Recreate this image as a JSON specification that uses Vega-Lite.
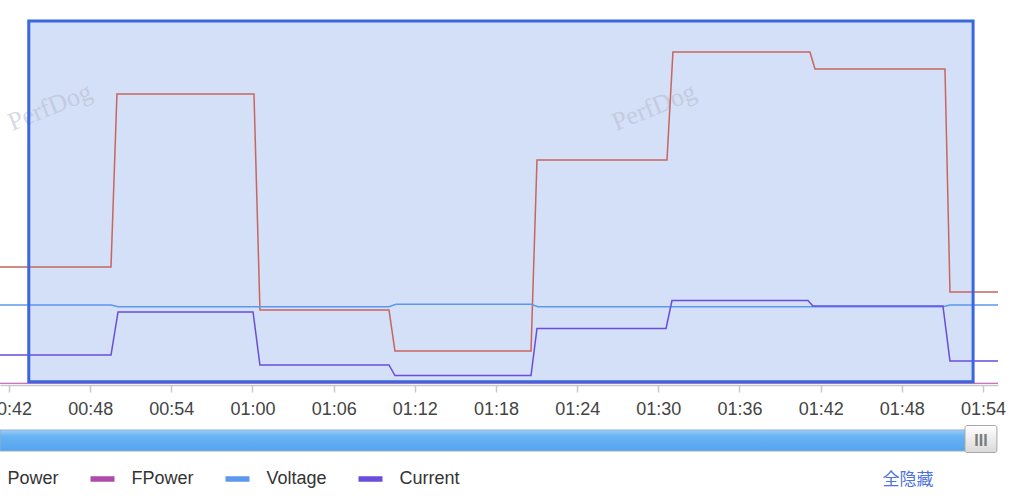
{
  "$schema": "https://vega.github.io/schema/vega-lite/v6.json",
  "width": 998,
  "height": 433,
  "autosize": {"type": "none"},
  "padding": {"left": 0, "top": 20, "right": 26, "bottom": 50},
  "background": "white",
  "config": {"view": {"stroke": null}},
  "title": {"text": "全隐藏", "orient": "bottom", "anchor": "end", "dx": -72, "offset": -18, "font": "Noto Sans CJK SC", "fontSize": 17, "fontWeight": "normal", "color": "#5072e0"},
  "datasets": {
    "series": [
      {"series": "FPower", "t": 41.0, "v": 0},
      {"series": "FPower", "t": 115.3, "v": 0},
      {"series": "Power", "t": 41.0, "v": 7456},
      {"series": "Power", "t": 49.54, "v": 7456},
      {"series": "Power", "t": 49.98, "v": 14556},
      {"series": "Power", "t": 60.11, "v": 14556},
      {"series": "Power", "t": 60.55, "v": 5692},
      {"series": "Power", "t": 70.09, "v": 5692},
      {"series": "Power", "t": 70.53, "v": 4010},
      {"series": "Power", "t": 80.59, "v": 4010},
      {"series": "Power", "t": 81.03, "v": 11848},
      {"series": "Power", "t": 90.64, "v": 11848},
      {"series": "Power", "t": 91.08, "v": 16280},
      {"series": "Power", "t": 101.21, "v": 16280},
      {"series": "Power", "t": 101.58, "v": 15582},
      {"series": "Power", "t": 111.19, "v": 15582},
      {"series": "Power", "t": 111.56, "v": 6430},
      {"series": "Power", "t": 115.3, "v": 6430},
      {"series": "Voltage", "t": 41.0, "v": 4100},
      {"series": "Voltage", "t": 49.54, "v": 4100},
      {"series": "Voltage", "t": 50.06, "v": 4077},
      {"series": "Voltage", "t": 70.09, "v": 4077},
      {"series": "Voltage", "t": 70.61, "v": 4109},
      {"series": "Voltage", "t": 80.59, "v": 4109},
      {"series": "Voltage", "t": 81.1, "v": 4077},
      {"series": "Voltage", "t": 111.04, "v": 4077},
      {"series": "Voltage", "t": 111.56, "v": 4100},
      {"series": "Voltage", "t": 115.3, "v": 4100},
      {"series": "Current", "t": 41.0, "v": 1800},
      {"series": "Current", "t": 49.54, "v": 1800},
      {"series": "Current", "t": 50.06, "v": 3520},
      {"series": "Current", "t": 60.04, "v": 3520},
      {"series": "Current", "t": 60.55, "v": 1400},
      {"series": "Current", "t": 70.09, "v": 1400},
      {"series": "Current", "t": 70.53, "v": 980},
      {"series": "Current", "t": 80.59, "v": 980},
      {"series": "Current", "t": 81.03, "v": 2860},
      {"series": "Current", "t": 90.57, "v": 2860},
      {"series": "Current", "t": 91.01, "v": 3980},
      {"series": "Current", "t": 101.06, "v": 3980},
      {"series": "Current", "t": 101.43, "v": 3760},
      {"series": "Current", "t": 111.04, "v": 3760},
      {"series": "Current", "t": 111.56, "v": 1560},
      {"series": "Current", "t": 115.3, "v": 1560}
    ],
    "selection": [{"start": 43.462, "end": 113.269}],
    "scroll": [{"start": 41.335, "end": 114.5, "handleStart": 112.67, "handleEnd": 115.03}]
  },
  "layer": [
    {
      "data": {"name": "series"},
      "transform": [{"filter": "datum.series === 'FPower'"}],
      "mark": {"type": "line", "strokeWidth": 1.2, "clip": true},
      "encoding": {
        "x": {"field": "t", "type": "quantitative",
          "scale": {"domain": [41.335, 115.11], "nice": false, "zero": false},
          "axis": {"title": null, "values": [42, 48, 54, 60, 66, 72, 78, 84, 90, 96, 102, 108, 114],
            "labelExpr": "(floor(datum.value/60) < 10 ? '0' : '') + floor(datum.value/60) + ':' + (datum.value % 60 < 10 ? '0' : '') + (datum.value % 60)",
            "offset": -68, "grid": false, "domainColor": "#c8c8c8", "domainWidth": 1.5,
            "tickColor": "#c8c8c8", "tickWidth": 1.5, "tickSize": 7,
            "labelFont": "Liberation Sans", "labelFontSize": 18, "labelColor": "#444444",
            "labelPadding": 8, "labelFlush": false, "labelOverlap": false, "labelBound": false}},
        "y": {"field": "v", "type": "quantitative", "scale": {"domain": [-19.2, 100], "nice": false, "zero": false}, "axis": null},
        "color": {"field": "series", "type": "nominal",
          "scale": {"domain": ["Power", "FPower", "Voltage", "Current"], "range": ["#c8655d", "#b04aa8", "#5b98ee", "#6a4ddc"]},
          "legend": {"orient": "none", "legendX": -36.5, "legendY": 444, "direction": "horizontal", "title": null,
            "symbolType": "stroke", "symbolSize": 576, "symbolStrokeWidth": 5.5, "symbolOpacity": 1,
            "labelFont": "Liberation Sans", "labelFontSize": 18, "labelColor": "#333333",
            "labelOffset": 14, "columnPadding": 20, "padding": 0}}
      }
    },
    {
      "data": {"name": "selection"},
      "mark": {"type": "rect", "fill": "#d4dff8", "strokeWidth": 0},
      "encoding": {
        "x": {"field": "start", "type": "quantitative", "title": null},
        "x2": {"field": "end"},
        "y": {"datum": 1, "type": "quantitative", "scale": {"domain": [0, 433], "reverse": true, "nice": false, "zero": false}, "axis": null},
        "y2": {"datum": 361.8}
      }
    },
    {
      "data": {"values": [{}]},
      "mark": {"type": "text", "text": "PerfDog", "font": "Liberation Serif", "fontSize": 26, "angle": 338, "color": "#b8bccb", "opacity": 0.55},
      "encoding": {
        "x": {"datum": 45.03, "type": "quantitative", "title": null},
        "y": {"datum": 87, "type": "quantitative", "scale": {"domain": [0, 433], "reverse": true, "nice": false, "zero": false}, "axis": null}
      }
    },
    {
      "data": {"values": [{}]},
      "mark": {"type": "text", "text": "PerfDog", "font": "Liberation Serif", "fontSize": 26, "angle": 338, "color": "#b8bccb", "opacity": 0.55},
      "encoding": {
        "x": {"datum": 89.68, "type": "quantitative", "title": null},
        "y": {"datum": 87, "type": "quantitative", "scale": {"domain": [0, 433], "reverse": true, "nice": false, "zero": false}, "axis": null}
      }
    },
    {
      "data": {"name": "series"},
      "transform": [{"filter": "datum.series === 'Power'"}],
      "mark": {"type": "line", "strokeWidth": 1.5, "clip": true},
      "encoding": {
        "x": {"field": "t", "type": "quantitative", "title": null},
        "y": {"field": "v", "type": "quantitative", "scale": {"domain": [-177, 17593], "nice": false, "zero": false}, "axis": null},
        "color": {"field": "series", "type": "nominal"}
      }
    },
    {
      "data": {"name": "series"},
      "transform": [{"filter": "datum.series === 'Voltage'"}],
      "mark": {"type": "line", "strokeWidth": 1.5, "clip": true},
      "encoding": {
        "x": {"field": "t", "type": "quantitative", "title": null},
        "y": {"field": "v", "type": "quantitative", "scale": {"domain": [2126.7, 7900], "nice": false, "zero": false}, "axis": null},
        "color": {"field": "series", "type": "nominal"}
      }
    },
    {
      "data": {"name": "series"},
      "transform": [{"filter": "datum.series === 'Current'"}],
      "mark": {"type": "line", "strokeWidth": 1.5, "clip": true},
      "encoding": {
        "x": {"field": "t", "type": "quantitative", "title": null},
        "y": {"field": "v", "type": "quantitative", "scale": {"domain": [-2120, 15200], "nice": false, "zero": false}, "axis": null},
        "color": {"field": "series", "type": "nominal"}
      }
    },
    {
      "data": {"name": "selection"},
      "mark": {"type": "rect", "fill": null, "fillOpacity": 0, "stroke": "#3a66e0", "strokeWidth": 3},
      "encoding": {
        "x": {"field": "start", "type": "quantitative", "title": null},
        "x2": {"field": "end"},
        "y": {"datum": 1, "type": "quantitative", "scale": {"domain": [0, 433], "reverse": true, "nice": false, "zero": false}, "axis": null},
        "y2": {"datum": 361.8}
      }
    },
    {
      "data": {"name": "scroll"},
      "mark": {"type": "rect", "stroke": "#8fb0cc", "strokeWidth": 1,
        "fill": {"gradient": "linear", "x1": 0, "y1": 0, "x2": 0, "y2": 1,
          "stops": [{"offset": 0, "color": "#9ccdf7"}, {"offset": 0.3, "color": "#68b3f3"}, {"offset": 1, "color": "#55a4ee"}]}},
      "encoding": {
        "x": {"field": "start", "type": "quantitative", "title": null},
        "x2": {"field": "end"},
        "y": {"datum": 410, "type": "quantitative", "scale": {"domain": [0, 433], "reverse": true, "nice": false, "zero": false}, "axis": null},
        "y2": {"datum": 431}
      }
    },
    {
      "data": {"name": "scroll"},
      "mark": {"type": "rect", "stroke": "#a8a8a8", "strokeWidth": 1, "cornerRadius": 2,
        "fill": {"gradient": "linear", "x1": 0, "y1": 0, "x2": 0, "y2": 1,
          "stops": [{"offset": 0, "color": "#ffffff"}, {"offset": 1, "color": "#d9d9d9"}]}},
      "encoding": {
        "x": {"field": "handleStart", "type": "quantitative", "title": null},
        "x2": {"field": "handleEnd"},
        "y": {"datum": 405.5, "type": "quantitative", "scale": {"domain": [0, 433], "reverse": true, "nice": false, "zero": false}, "axis": null},
        "y2": {"datum": 432.5}
      }
    },
    {
      "data": {"values": [{}]},
      "mark": {"type": "text", "text": "III", "font": "Liberation Sans", "fontWeight": "bold", "fontSize": 16, "color": "#7a7a7a", "baseline": "middle", "align": "center"},
      "encoding": {
        "x": {"datum": 113.85, "type": "quantitative", "title": null},
        "y": {"datum": 421, "type": "quantitative", "scale": {"domain": [0, 433], "reverse": true, "nice": false, "zero": false}, "axis": null}
      }
    }
  ],
  "resolve": {"scale": {"y": "independent"}}
}
